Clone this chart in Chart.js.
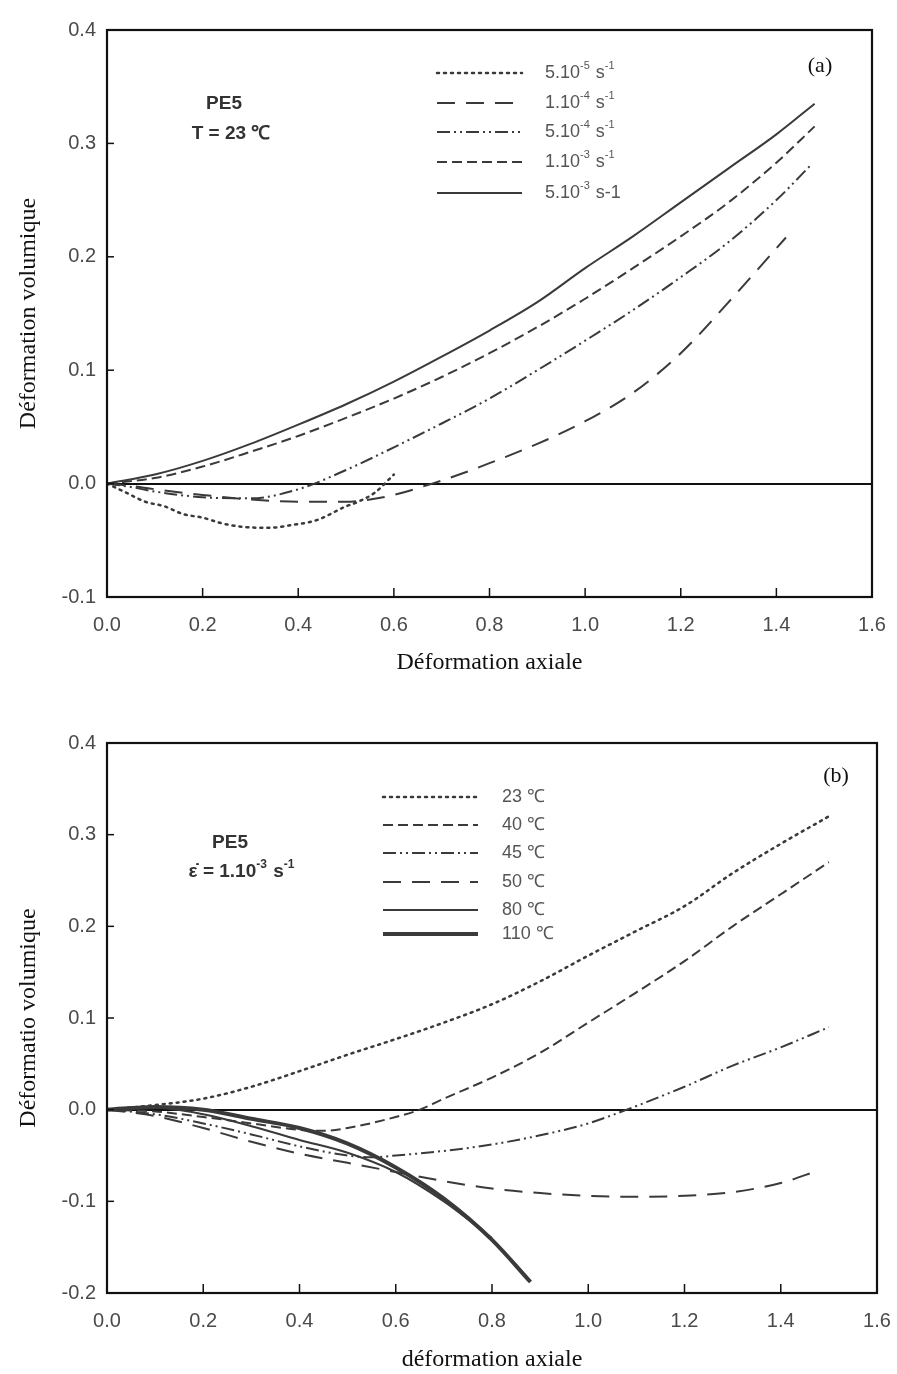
<!DOCTYPE html>
<html>
<head>
<meta charset="utf-8">
<script src="https://cdn.jsdelivr.net/npm/chart.js@4.4.1/dist/chart.umd.min.js"></script>
<style>
  body { margin: 0; background: #fff; width: 897px; height: 1374px; position: relative; overflow: hidden; }
  .box { position: absolute; left: 0; width: 897px; }
  #boxA { top: 0; height: 690px; }
  #boxB { top: 700px; height: 674px; }
</style>
</head>
<body>
<div class="box" id="boxA"><canvas id="chartA"></canvas></div>
<div class="box" id="boxB"><canvas id="chartB"></canvas></div>
<script>
// (a) PE5, T = 23 °C, various strain rates
const a5e5X = [0, 0.04, 0.08, 0.12, 0.16, 0.2, 0.24, 0.28, 0.34, 0.38, 0.44, 0.5, 0.52, 0.56, 0.6];
const a5e5Y = [0, -0.008, -0.016, -0.02, -0.027, -0.03, -0.035, -0.038, -0.039, -0.037, -0.032, -0.02, -0.017, -0.008, 0.008];
const a1e4X = [0, 0.05, 0.1, 0.2, 0.3, 0.4, 0.5, 0.55, 0.6, 0.68, 0.75, 0.8, 0.9, 1.0, 1.1, 1.2, 1.3, 1.42];
const a1e4Y = [0, -0.002, -0.005, -0.01, -0.014, -0.016, -0.016, -0.014, -0.01, 0, 0.01, 0.018, 0.035, 0.055, 0.08, 0.115, 0.16, 0.217];
const a5e4X = [0, 0.05, 0.1, 0.2, 0.3, 0.4, 0.5, 0.6, 0.7, 0.8, 0.9, 1.0, 1.1, 1.2, 1.3, 1.4, 1.47];
const a5e4Y = [0, -0.003, -0.007, -0.012, -0.013, -0.005, 0.012, 0.032, 0.053, 0.075, 0.1, 0.126, 0.153, 0.182, 0.213, 0.25, 0.28];
const a1e3X = [0, 0.1, 0.2, 0.3, 0.4, 0.5, 0.6, 0.7, 0.8, 0.9, 1.0, 1.1, 1.2, 1.3, 1.4, 1.48];
const a1e3Y = [0, 0.005, 0.015, 0.028, 0.042, 0.058, 0.075, 0.094, 0.115, 0.138, 0.163, 0.19, 0.218, 0.248, 0.283, 0.315];
const a5e3X = [0, 0.1, 0.2, 0.3, 0.4, 0.5, 0.6, 0.7, 0.8, 0.9, 1.0, 1.1, 1.2, 1.3, 1.4, 1.48];
const a5e3Y = [0, 0.008, 0.02, 0.035, 0.052, 0.07, 0.09, 0.112, 0.135, 0.16, 0.19, 0.218, 0.248, 0.278, 0.308, 0.335];

// (b) PE5, strain rate 1.10-3 s-1, various temperatures
const b23X = [0, 0.1, 0.2, 0.3, 0.4, 0.5, 0.6, 0.7, 0.8, 0.9, 1.0, 1.1, 1.2, 1.3, 1.4, 1.5];
const b23Y = [0, 0.005, 0.012, 0.025, 0.042, 0.06, 0.077, 0.095, 0.115, 0.14, 0.168, 0.195, 0.222, 0.258, 0.29, 0.32];
const b40X = [0, 0.1, 0.2, 0.3, 0.4, 0.45, 0.5, 0.6, 0.65, 0.7, 0.8, 0.9, 1.0, 1.1, 1.2, 1.3, 1.4, 1.5];
const b40Y = [0, -0.002, -0.008, -0.015, -0.022, -0.023, -0.02, -0.008, 0, 0.012, 0.035, 0.062, 0.095, 0.128, 0.162, 0.2, 0.235, 0.27];
const b45X = [0, 0.1, 0.2, 0.3, 0.4, 0.5, 0.55, 0.6, 0.7, 0.8, 0.9, 1.0, 1.08, 1.2, 1.3, 1.4, 1.5];
const b45Y = [0, -0.005, -0.015, -0.027, -0.04, -0.05, -0.052, -0.05, -0.045, -0.038, -0.028, -0.015, 0, 0.025, 0.048, 0.068, 0.09];
const b50X = [0, 0.1, 0.2, 0.3, 0.4, 0.5, 0.6, 0.7, 0.8, 0.9, 1.0, 1.1, 1.2, 1.3, 1.4, 1.48];
const b50Y = [0, -0.007, -0.02, -0.035, -0.048, -0.058, -0.068, -0.078, -0.086, -0.091, -0.094, -0.095, -0.094, -0.09, -0.08, -0.066];
const b80X = [0, 0.1, 0.2, 0.3, 0.4, 0.5, 0.6, 0.7, 0.8];
const b80Y = [0, 0.002, -0.005, -0.018, -0.033, -0.047, -0.068, -0.1, -0.14];
const b110X = [0, 0.1, 0.2, 0.3, 0.4, 0.5, 0.6, 0.7, 0.8, 0.88];
const b110Y = [0, 0.003, 0, -0.01, -0.02, -0.037, -0.063, -0.097, -0.142, -0.188];

// legend labels: [text, superscript?]
const legendA = [
    [['5.10', 0], ['-5', 1], [' s', 0], ['-1', 1]],
    [['1.10', 0], ['-4', 1], [' s', 0], ['-1', 1]],
    [['5.10', 0], ['-4', 1], [' s', 0], ['-1', 1]],
    [['1.10', 0], ['-3', 1], [' s', 0], ['-1', 1]],
    [['5.10', 0], ['-3', 1], [' s-1', 0]]
];
const legendB = ['23 ℃', '40 ℃', '45 ℃', '50 ℃', '80 ℃', '110 ℃'];

const xTicksMin = 0, xTicksMax = 1.6, xStep = 0.2;

const pts = (xs, ys) => xs.map((x, i) => ({ x: x, y: ys[i] }));

const INK = '#3a3a3a';
const DOTS = [2, 5];
const DASH = [10, 5];
const DASHDOT = [13, 4, 2, 4, 2, 4];
const LONGDASH = [18, 11];

function line(data, dash, width) {
    return {
        data: data,
        showLine: true,
        borderColor: INK,
        borderWidth: width || 2,
        borderDash: dash,
        borderCapStyle: dash.length && dash[0] <= 3 ? 'round' : 'butt',
        pointRadius: 0,
        cubicInterpolationMode: 'monotone',
        fill: false
    };
}

/**
 * draw text made of normal / superscript parts
 */
function drawParts(ctx, parts, x, y, size, weight) {
    parts.forEach(([txt, sup]) => {
        const s = sup ? Math.round(size * 0.62) : size;
        ctx.font = (weight || '') + ' ' + s + 'px "Liberation Sans", Arial, sans-serif';
        ctx.fillText(txt, x, sup ? y - size * 0.38 : y);
        x += ctx.measureText(txt).width + (sup ? 1 : 0);
    });
}

function partsWidth(ctx, parts, size, weight) {
    let w = 0;
    parts.forEach(([txt, sup]) => {
        const s = sup ? Math.round(size * 0.62) : size;
        ctx.font = (weight || '') + ' ' + s + 'px "Liberation Sans", Arial, sans-serif';
        w += ctx.measureText(txt).width + (sup ? 1 : 0);
    });
    return w;
}

// frame box + inward tick marks
const framePlugin = {
    id: 'frame',
    afterDraw(chart) {
        const { ctx, chartArea: a, scales } = chart;
        ctx.save();
        ctx.strokeStyle = '#111';
        ctx.lineWidth = 1.5;
        scales.x.ticks.forEach(t => {
            const px = scales.x.getPixelForValue(t.value);
            ctx.beginPath();
            ctx.moveTo(px, a.bottom);
            ctx.lineTo(px, a.bottom - 9);
            ctx.stroke();
        });
        scales.y.ticks.forEach(t => {
            const py = scales.y.getPixelForValue(t.value);
            ctx.beginPath();
            ctx.moveTo(a.left, py);
            ctx.lineTo(a.left + 7, py);
            ctx.stroke();
        });
        ctx.lineWidth = 2.2;
        ctx.strokeRect(a.left, a.top, a.right - a.left, a.bottom - a.top);
        ctx.restore();
    }
};

function makeNotes(cfg) {
    return {
        id: 'notes',
        afterDraw(chart) {
            const ctx = chart.ctx;
            ctx.save();
            ctx.textBaseline = 'middle';
            ctx.textAlign = 'left';
            // legend
            cfg.items.forEach((item, i) => {
                const y = cfg.legendY[i];
                const ds = chart.data.datasets[i];
                ctx.strokeStyle = INK;
                ctx.lineWidth = ds.borderWidth;
                ctx.lineCap = ds.borderCapStyle;
                ctx.setLineDash(ds.borderDash);
                ctx.beginPath();
                ctx.moveTo(cfg.lineX0, y);
                ctx.lineTo(cfg.lineX1, y);
                ctx.stroke();
                ctx.setLineDash([]);
                ctx.fillStyle = '#555';
                const parts = Array.isArray(item) ? item : [[item, 0]];
                drawParts(ctx, parts, cfg.textX, y, 18);
            });
            // panel letter
            ctx.fillStyle = '#111';
            ctx.textAlign = 'center';
            ctx.font = '22px "Liberation Serif", serif';
            ctx.fillText(cfg.letter, cfg.letterX, cfg.letterY);
            // sample text
            ctx.fillStyle = '#333';
            cfg.lines.forEach(l => {
                const w = partsWidth(ctx, l.parts, 19, 'bold');
                ctx.textAlign = 'left';
                drawParts(ctx, l.parts, l.cx - w / 2, l.y, 19, 'bold');
            });
            ctx.restore();
        }
    };
}

function axisOptions(yMin, yMax, xHeight, yTitle, xTitle, xTitlePad) {
    const tickFont = { family: '"Liberation Sans", Arial, sans-serif', size: 20 };
    const titleFont = { family: '"Liberation Serif", "DejaVu Serif", serif', size: 24 };
    return {
        x: {
            type: 'linear',
            min: xTicksMin,
            max: xTicksMax,
            ticks: { stepSize: xStep, color: '#4a4a4a', font: tickFont, padding: 16, callback: v => v.toFixed(1) },
            grid: { display: false, drawTicks: false },
            border: { display: false },
            title: { display: true, text: xTitle, color: '#111', font: titleFont, padding: { top: 0, bottom: xTitlePad } },
            afterFit(scale) {
                scale.height = xHeight;
                scale.paddingLeft = 0;
                scale.paddingRight = 0;
            }
        },
        y: {
            type: 'linear',
            min: yMin,
            max: yMax,
            ticks: { stepSize: 0.1, color: '#4a4a4a', font: tickFont, padding: 11, callback: v => v.toFixed(1) },
            grid: {
                drawTicks: false,
                color: c => (c.tick && Math.abs(c.tick.value) < 1e-9) ? '#111' : 'rgba(0,0,0,0)',
                lineWidth: 2
            },
            border: { display: false },
            title: { display: true, text: yTitle, color: '#111', font: titleFont, padding: { top: 14, bottom: 0 } },
            afterFit(scale) {
                scale.width = 107;
                scale.paddingTop = 0;
                scale.paddingBottom = 0;
            }
        }
    };
}

new Chart(document.getElementById('chartA'), {
    type: 'scatter',
    data: {
        datasets: [
            line(pts(a5e5X, a5e5Y), DOTS, 2.5),
            line(pts(a1e4X, a1e4Y), LONGDASH, 2),
            line(pts(a5e4X, a5e4Y), DASHDOT, 2),
            line(pts(a1e3X, a1e3Y), DASH, 2),
            line(pts(a5e3X, a5e3Y), [], 2)
        ]
    },
    options: {
        responsive: true,
        maintainAspectRatio: false,
        animation: false,
        layout: { padding: { top: 30, right: 25, left: 0, bottom: 0 } },
        plugins: { legend: { display: false }, tooltip: { enabled: false } },
        scales: axisOptions(-0.1, 0.4, 93, 'Déformation volumique', 'Déformation axiale', 13)
    },
    plugins: [framePlugin, makeNotes({
        items: legendA,
        legendY: [73, 103, 132, 162, 193],
        lineX0: 437, lineX1: 522, textX: 545,
        letter: '(a)', letterX: 820, letterY: 66,
        lines: [
            { cx: 224, y: 104, parts: [['PE5', 0]] },
            { cx: 231, y: 134, parts: [['T = 23 ℃', 0]] }
        ]
    })]
});

new Chart(document.getElementById('chartB'), {
    type: 'scatter',
    data: {
        datasets: [
            line(pts(b23X, b23Y), DOTS, 2.5),
            line(pts(b40X, b40Y), DASH, 2),
            line(pts(b45X, b45Y), DASHDOT, 2),
            line(pts(b50X, b50Y), LONGDASH, 2),
            line(pts(b80X, b80Y), [], 2),
            line(pts(b110X, b110Y), [], 4)
        ]
    },
    options: {
        responsive: true,
        maintainAspectRatio: false,
        animation: false,
        layout: { padding: { top: 43, right: 20, left: 0, bottom: 0 } },
        plugins: { legend: { display: false }, tooltip: { enabled: false } },
        scales: axisOptions(-0.2, 0.4, 81, 'Déformatio volumique', 'déformation axiale', 0)
    },
    plugins: [framePlugin, makeNotes({
        items: legendB,
        legendY: [97, 125, 153, 182, 210, 234],
        lineX0: 383, lineX1: 478, textX: 502,
        letter: '(b)', letterX: 836, letterY: 76,
        lines: [
            { cx: 230, y: 143, parts: [['PE5', 0]] },
            { cx: 242, y: 172, parts: [['ε̇ = 1.10', 0], ['-3', 1], [' s', 0], ['-1', 1]] }
        ]
    })]
});
</script>
</body>
</html>
